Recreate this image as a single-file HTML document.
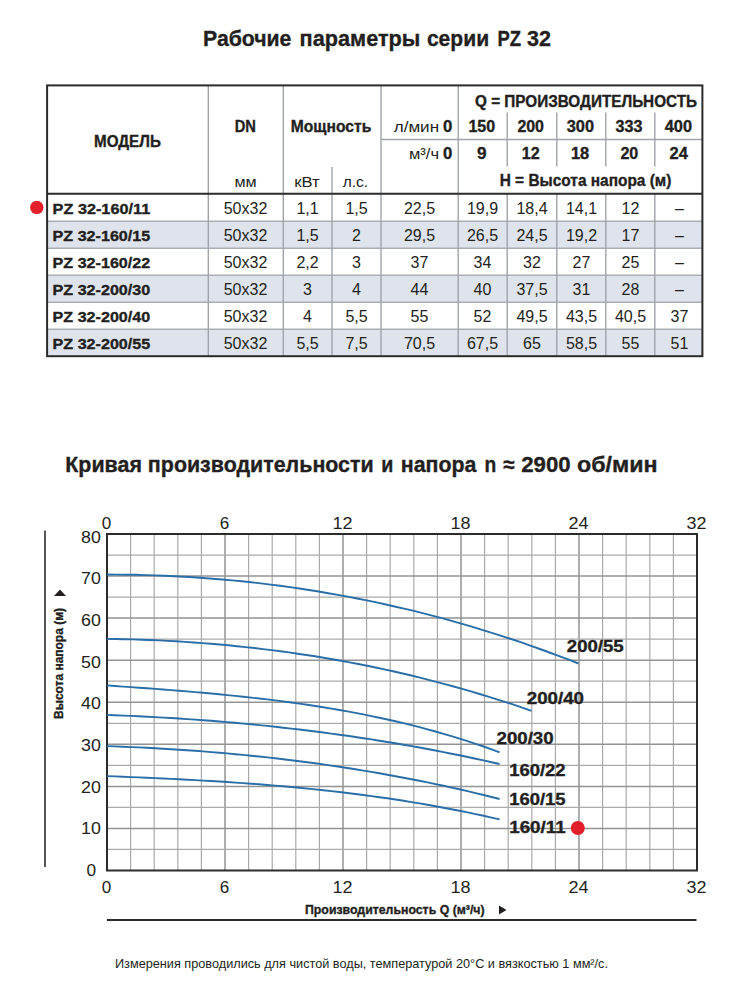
<!DOCTYPE html>
<html><head><meta charset="utf-8"><style>
html,body{margin:0;padding:0;background:#fff;width:735px;height:1000px;overflow:hidden}
svg{position:absolute;left:0;top:0;font-family:"Liberation Sans",sans-serif}
</style></head><body>
<svg width="735" height="1000" viewBox="0 0 735 1000">
<g id="lines">
<rect x="47" y="222" width="655" height="26" fill="#dfe4ec"/>
<rect x="47" y="276" width="655" height="26" fill="#dfe4ec"/>
<rect x="47" y="330" width="655" height="26" fill="#dfe4ec"/>
<line x1="47" y1="221.3" x2="702" y2="221.3" stroke="#a9aeb5" stroke-width="1.6"/>
<line x1="47" y1="248.3" x2="702" y2="248.3" stroke="#a9aeb5" stroke-width="1.6"/>
<line x1="47" y1="275.3" x2="702" y2="275.3" stroke="#a9aeb5" stroke-width="1.6"/>
<line x1="47" y1="302.3" x2="702" y2="302.3" stroke="#a9aeb5" stroke-width="1.6"/>
<line x1="47" y1="329.3" x2="702" y2="329.3" stroke="#a9aeb5" stroke-width="1.6"/>
<line x1="208.3" y1="85" x2="208.3" y2="356" stroke="#a0a4aa" stroke-width="1.4"/>
<line x1="283.3" y1="85" x2="283.3" y2="356" stroke="#a0a4aa" stroke-width="1.4"/>
<line x1="381" y1="85" x2="381" y2="356" stroke="#a0a4aa" stroke-width="1.4"/>
<line x1="458.2" y1="85" x2="458.2" y2="356" stroke="#a0a4aa" stroke-width="1.4"/>
<line x1="332" y1="167" x2="332" y2="356" stroke="#a0a4aa" stroke-width="1.4"/>
<line x1="507.2" y1="112.5" x2="507.2" y2="166.5" stroke="#a0a4aa" stroke-width="1.4"/>
<line x1="507.2" y1="194" x2="507.2" y2="356" stroke="#a0a4aa" stroke-width="1.4"/>
<line x1="556.8" y1="112.5" x2="556.8" y2="166.5" stroke="#a0a4aa" stroke-width="1.4"/>
<line x1="556.8" y1="194" x2="556.8" y2="356" stroke="#a0a4aa" stroke-width="1.4"/>
<line x1="605.8" y1="112.5" x2="605.8" y2="166.5" stroke="#a0a4aa" stroke-width="1.4"/>
<line x1="605.8" y1="194" x2="605.8" y2="356" stroke="#a0a4aa" stroke-width="1.4"/>
<line x1="654.8" y1="112.5" x2="654.8" y2="166.5" stroke="#a0a4aa" stroke-width="1.4"/>
<line x1="654.8" y1="194" x2="654.8" y2="356" stroke="#a0a4aa" stroke-width="1.4"/>
<line x1="381" y1="139.5" x2="702" y2="139.5" stroke="#a0a4aa" stroke-width="1.4"/>
<line x1="47" y1="193.7" x2="702" y2="193.7" stroke="#2b2b2b" stroke-width="2"/>
<rect x="47.1" y="85.4" width="655.3" height="270.8" fill="none" stroke="#2b2b2b" stroke-width="2"/>
<circle cx="36.8" cy="207.4" r="6.7" fill="#e3202a"/>
<line x1="130.60" y1="534.0" x2="130.60" y2="870.5" stroke="#aaaaaa" stroke-width="1.2"/>
<line x1="154.20" y1="534.0" x2="154.20" y2="870.5" stroke="#aaaaaa" stroke-width="1.2"/>
<line x1="177.80" y1="534.0" x2="177.80" y2="870.5" stroke="#aaaaaa" stroke-width="1.2"/>
<line x1="201.40" y1="534.0" x2="201.40" y2="870.5" stroke="#aaaaaa" stroke-width="1.2"/>
<line x1="225.00" y1="534.0" x2="225.00" y2="870.5" stroke="#939393" stroke-width="1.5"/>
<line x1="248.60" y1="534.0" x2="248.60" y2="870.5" stroke="#aaaaaa" stroke-width="1.2"/>
<line x1="272.20" y1="534.0" x2="272.20" y2="870.5" stroke="#aaaaaa" stroke-width="1.2"/>
<line x1="295.80" y1="534.0" x2="295.80" y2="870.5" stroke="#aaaaaa" stroke-width="1.2"/>
<line x1="319.40" y1="534.0" x2="319.40" y2="870.5" stroke="#aaaaaa" stroke-width="1.2"/>
<line x1="343.00" y1="534.0" x2="343.00" y2="870.5" stroke="#939393" stroke-width="1.5"/>
<line x1="366.60" y1="534.0" x2="366.60" y2="870.5" stroke="#aaaaaa" stroke-width="1.2"/>
<line x1="390.20" y1="534.0" x2="390.20" y2="870.5" stroke="#aaaaaa" stroke-width="1.2"/>
<line x1="413.80" y1="534.0" x2="413.80" y2="870.5" stroke="#aaaaaa" stroke-width="1.2"/>
<line x1="437.40" y1="534.0" x2="437.40" y2="870.5" stroke="#aaaaaa" stroke-width="1.2"/>
<line x1="461.00" y1="534.0" x2="461.00" y2="870.5" stroke="#939393" stroke-width="1.5"/>
<line x1="484.60" y1="534.0" x2="484.60" y2="870.5" stroke="#aaaaaa" stroke-width="1.2"/>
<line x1="508.20" y1="534.0" x2="508.20" y2="870.5" stroke="#aaaaaa" stroke-width="1.2"/>
<line x1="531.80" y1="534.0" x2="531.80" y2="870.5" stroke="#aaaaaa" stroke-width="1.2"/>
<line x1="555.40" y1="534.0" x2="555.40" y2="870.5" stroke="#aaaaaa" stroke-width="1.2"/>
<line x1="579.00" y1="534.0" x2="579.00" y2="870.5" stroke="#939393" stroke-width="1.5"/>
<line x1="602.60" y1="534.0" x2="602.60" y2="870.5" stroke="#aaaaaa" stroke-width="1.2"/>
<line x1="626.20" y1="534.0" x2="626.20" y2="870.5" stroke="#aaaaaa" stroke-width="1.2"/>
<line x1="649.80" y1="534.0" x2="649.80" y2="870.5" stroke="#aaaaaa" stroke-width="1.2"/>
<line x1="673.40" y1="534.0" x2="673.40" y2="870.5" stroke="#aaaaaa" stroke-width="1.2"/>
<line x1="107" y1="555.03" x2="697" y2="555.03" stroke="#aaaaaa" stroke-width="1.2"/>
<line x1="107" y1="576.06" x2="697" y2="576.06" stroke="#939393" stroke-width="1.5"/>
<line x1="107" y1="597.09" x2="697" y2="597.09" stroke="#aaaaaa" stroke-width="1.2"/>
<line x1="107" y1="618.12" x2="697" y2="618.12" stroke="#939393" stroke-width="1.5"/>
<line x1="107" y1="639.16" x2="697" y2="639.16" stroke="#aaaaaa" stroke-width="1.2"/>
<line x1="107" y1="660.19" x2="697" y2="660.19" stroke="#939393" stroke-width="1.5"/>
<line x1="107" y1="681.22" x2="697" y2="681.22" stroke="#aaaaaa" stroke-width="1.2"/>
<line x1="107" y1="702.25" x2="697" y2="702.25" stroke="#939393" stroke-width="1.5"/>
<line x1="107" y1="723.28" x2="697" y2="723.28" stroke="#aaaaaa" stroke-width="1.2"/>
<line x1="107" y1="744.31" x2="697" y2="744.31" stroke="#939393" stroke-width="1.5"/>
<line x1="107" y1="765.34" x2="697" y2="765.34" stroke="#aaaaaa" stroke-width="1.2"/>
<line x1="107" y1="786.38" x2="697" y2="786.38" stroke="#939393" stroke-width="1.5"/>
<line x1="107" y1="807.41" x2="697" y2="807.41" stroke="#aaaaaa" stroke-width="1.2"/>
<line x1="107" y1="828.44" x2="697" y2="828.44" stroke="#939393" stroke-width="1.5"/>
<line x1="107" y1="849.47" x2="697" y2="849.47" stroke="#aaaaaa" stroke-width="1.2"/>
<rect x="107" y="534.0" width="590" height="336.5" fill="none" stroke="#2b2b2b" stroke-width="2"/>
<path d="M107.0,574.5 L116.6,574.6 L126.2,574.7 L135.9,574.8 L145.5,575.1 L155.1,575.4 L164.7,575.8 L174.3,576.2 L184.0,576.7 L193.6,577.3 L203.2,578.0 L212.8,578.7 L222.4,579.5 L232.1,580.4 L241.7,581.3 L251.3,582.3 L260.9,583.4 L270.5,584.6 L280.2,585.8 L289.8,587.1 L299.4,588.5 L309.0,590.0 L318.6,591.5 L328.3,593.2 L337.9,594.9 L347.5,596.6 L357.1,598.5 L366.8,600.4 L376.4,602.4 L386.0,604.5 L395.6,606.7 L405.2,608.9 L414.9,611.2 L424.5,613.6 L434.1,616.1 L443.7,618.7 L453.3,621.3 L463.0,624.1 L472.6,626.9 L482.2,629.8 L491.8,632.8 L501.4,635.8 L511.1,639.0 L520.7,642.2 L530.3,645.6 L539.9,649.0 L549.5,652.5 L559.2,656.1 L568.8,659.7 L578.4,663.5" fill="none" stroke="#2a6ea8" stroke-width="1.9" stroke-linejoin="round"/>
<path d="M107.0,638.9 L115.7,639.0 L124.3,639.2 L133.0,639.4 L141.7,639.7 L150.3,640.0 L159.0,640.4 L167.7,640.9 L176.3,641.3 L185.0,641.9 L193.7,642.5 L202.3,643.1 L211.0,643.8 L219.6,644.5 L228.3,645.3 L237.0,646.2 L245.6,647.1 L254.3,648.0 L263.0,649.1 L271.6,650.1 L280.3,651.3 L289.0,652.4 L297.6,653.7 L306.3,655.0 L315.0,656.3 L323.6,657.8 L332.3,659.2 L341.0,660.8 L349.6,662.4 L358.3,664.0 L367.0,665.8 L375.6,667.5 L384.3,669.4 L393.0,671.3 L401.6,673.3 L410.3,675.3 L419.0,677.4 L427.6,679.6 L436.3,681.8 L444.9,684.1 L453.6,686.5 L462.3,688.9 L470.9,691.4 L479.6,694.0 L488.3,696.6 L496.9,699.3 L505.6,702.1 L514.3,704.9 L522.9,707.9 L531.6,710.9" fill="none" stroke="#2a6ea8" stroke-width="1.9" stroke-linejoin="round"/>
<path d="M107.0,685.4 L115.0,686.0 L123.0,686.6 L131.0,687.1 L139.0,687.7 L147.1,688.3 L155.1,688.9 L163.1,689.5 L171.1,690.1 L179.1,690.8 L187.1,691.4 L195.1,692.1 L203.1,692.8 L211.2,693.5 L219.2,694.3 L227.2,695.1 L235.2,695.9 L243.2,696.7 L251.2,697.6 L259.2,698.5 L267.2,699.4 L275.3,700.4 L283.3,701.4 L291.3,702.5 L299.3,703.6 L307.3,704.8 L315.3,706.0 L323.3,707.3 L331.3,708.6 L339.4,710.0 L347.4,711.4 L355.4,712.9 L363.4,714.4 L371.4,716.1 L379.4,717.7 L387.4,719.5 L395.4,721.3 L403.5,723.2 L411.5,725.2 L419.5,727.2 L427.5,729.3 L435.5,731.5 L443.5,733.8 L451.5,736.2 L459.5,738.6 L467.6,741.2 L475.6,743.8 L483.6,746.5 L491.6,749.3 L499.6,752.3" fill="none" stroke="#2a6ea8" stroke-width="1.9" stroke-linejoin="round"/>
<path d="M107.0,714.9 L115.0,715.2 L123.0,715.6 L131.0,715.9 L139.0,716.3 L147.1,716.7 L155.1,717.1 L163.1,717.6 L171.1,718.0 L179.1,718.5 L187.1,719.1 L195.1,719.6 L203.1,720.2 L211.2,720.8 L219.2,721.5 L227.2,722.1 L235.2,722.8 L243.2,723.6 L251.2,724.3 L259.2,725.1 L267.2,725.9 L275.3,726.8 L283.3,727.7 L291.3,728.6 L299.3,729.5 L307.3,730.5 L315.3,731.5 L323.3,732.5 L331.3,733.6 L339.4,734.7 L347.4,735.8 L355.4,737.0 L363.4,738.2 L371.4,739.4 L379.4,740.7 L387.4,742.0 L395.4,743.3 L403.5,744.7 L411.5,746.1 L419.5,747.5 L427.5,749.0 L435.5,750.5 L443.5,752.1 L451.5,753.7 L459.5,755.3 L467.6,757.0 L475.6,758.7 L483.6,760.4 L491.6,762.2 L499.6,764.0" fill="none" stroke="#2a6ea8" stroke-width="1.9" stroke-linejoin="round"/>
<path d="M107.0,746.1 L115.0,746.4 L123.0,746.7 L131.0,747.1 L139.0,747.4 L147.1,747.8 L155.1,748.3 L163.1,748.7 L171.1,749.2 L179.1,749.7 L187.1,750.2 L195.1,750.8 L203.1,751.4 L211.2,752.1 L219.2,752.7 L227.2,753.4 L235.2,754.2 L243.2,754.9 L251.2,755.7 L259.2,756.5 L267.2,757.4 L275.3,758.3 L283.3,759.2 L291.3,760.2 L299.3,761.2 L307.3,762.2 L315.3,763.3 L323.3,764.4 L331.3,765.6 L339.4,766.8 L347.4,768.0 L355.4,769.3 L363.4,770.6 L371.4,771.9 L379.4,773.3 L387.4,774.7 L395.4,776.2 L403.5,777.7 L411.5,779.2 L419.5,780.8 L427.5,782.4 L435.5,784.1 L443.5,785.8 L451.5,787.6 L459.5,789.3 L467.6,791.2 L475.6,793.1 L483.6,795.0 L491.6,797.0 L499.6,799.0" fill="none" stroke="#2a6ea8" stroke-width="1.9" stroke-linejoin="round"/>
<path d="M107.0,776.1 L115.0,776.4 L123.0,776.8 L131.0,777.1 L139.0,777.4 L147.1,777.8 L155.1,778.1 L163.1,778.5 L171.1,778.9 L179.1,779.3 L187.1,779.7 L195.1,780.1 L203.1,780.6 L211.2,781.0 L219.2,781.5 L227.2,782.0 L235.2,782.6 L243.2,783.1 L251.2,783.7 L259.2,784.3 L267.2,785.0 L275.3,785.6 L283.3,786.3 L291.3,787.0 L299.3,787.8 L307.3,788.6 L315.3,789.4 L323.3,790.2 L331.3,791.1 L339.4,792.0 L347.4,793.0 L355.4,794.0 L363.4,795.0 L371.4,796.1 L379.4,797.2 L387.4,798.3 L395.4,799.5 L403.5,800.8 L411.5,802.1 L419.5,803.4 L427.5,804.8 L435.5,806.2 L443.5,807.7 L451.5,809.2 L459.5,810.8 L467.6,812.4 L475.6,814.1 L483.6,815.8 L491.6,817.6 L499.6,819.4" fill="none" stroke="#2a6ea8" stroke-width="1.9" stroke-linejoin="round"/>
<circle cx="577.8" cy="828" r="7" fill="#e3202a"/>
<line x1="45" y1="530.5" x2="45" y2="867" stroke="#2b2b2b" stroke-width="1.6"/>
<line x1="107" y1="920" x2="696.5" y2="920" stroke="#2b2b2b" stroke-width="1.8"/>
<path d="M54,596 L66,596 L60,589.5 Z" fill="#231f20"/>
<path d="M499,905.6 L499,914.4 L506.5,910 Z" fill="#231f20"/>
</g>
<g id="texts">
<text id="t0" x="203.00" y="45.70" font-weight="700" font-size="22" textLength="88.40" lengthAdjust="spacingAndGlyphs" fill="#231f20" stroke="#231f20" stroke-width="0.35">Рабочие</text>
<text id="t1" x="299.60" y="45.70" font-weight="700" font-size="22" textLength="120.80" lengthAdjust="spacingAndGlyphs" fill="#231f20" stroke="#231f20" stroke-width="0.35">параметры</text>
<text id="t2" x="426.90" y="45.70" font-weight="700" font-size="22" textLength="62.20" lengthAdjust="spacingAndGlyphs" fill="#231f20" stroke="#231f20" stroke-width="0.35">серии</text>
<text id="t3" x="497.40" y="45.70" font-weight="700" font-size="22" textLength="23.60" lengthAdjust="spacingAndGlyphs" fill="#231f20" stroke="#231f20" stroke-width="0.35">PZ</text>
<text id="t4" x="527.10" y="45.70" font-weight="700" font-size="22" textLength="23.90" lengthAdjust="spacingAndGlyphs" fill="#231f20" stroke="#231f20" stroke-width="0.35">32</text>
<text id="t5" x="65.30" y="472.00" font-weight="700" font-size="22" textLength="308.40" lengthAdjust="spacingAndGlyphs" fill="#231f20" stroke="#231f20" stroke-width="0.35">Кривая производительности</text>
<text id="t6" x="381.20" y="472.00" font-weight="700" font-size="22" textLength="12.10" lengthAdjust="spacingAndGlyphs" fill="#231f20" stroke="#231f20" stroke-width="0.35">и</text>
<text id="t7" x="400.80" y="472.00" font-weight="700" font-size="22" textLength="75.70" lengthAdjust="spacingAndGlyphs" fill="#231f20" stroke="#231f20" stroke-width="0.35">напора</text>
<text id="t8" x="484.50" y="472.00" font-weight="700" font-size="22" textLength="11.80" lengthAdjust="spacingAndGlyphs" fill="#231f20" stroke="#231f20" stroke-width="0.35">n</text>
<text id="t9" x="503.10" y="472.00" font-weight="700" font-size="22" textLength="11.40" lengthAdjust="spacingAndGlyphs" fill="#231f20" stroke="#231f20" stroke-width="0.35">≈</text>
<text id="t10" x="521.20" y="472.00" font-weight="700" font-size="22" textLength="49.40" lengthAdjust="spacingAndGlyphs" fill="#231f20" stroke="#231f20" stroke-width="0.35">2900</text>
<text id="t11" x="577.00" y="472.00" font-weight="700" font-size="22" textLength="80.60" lengthAdjust="spacingAndGlyphs" fill="#231f20" stroke="#231f20" stroke-width="0.35">об/мин</text>
<text id="t12" x="94.00" y="147.20" font-weight="700" font-size="16" textLength="66.80" lengthAdjust="spacingAndGlyphs" fill="#231f20" stroke="#231f20" stroke-width="0.35">МОДЕЛЬ</text>
<text id="t13" x="234.70" y="132.40" font-weight="700" font-size="16" textLength="21.20" lengthAdjust="spacingAndGlyphs" fill="#231f20" stroke="#231f20" stroke-width="0.35">DN</text>
<text id="t14" x="290.80" y="132.40" font-weight="700" font-size="16" textLength="80.50" lengthAdjust="spacingAndGlyphs" fill="#231f20" stroke="#231f20" stroke-width="0.35">Мощность</text>
<text id="t15" x="234.40" y="187.20" font-weight="400" font-size="15.5" textLength="22.20" lengthAdjust="spacingAndGlyphs" fill="#231f20">мм</text>
<text id="t16" x="294.20" y="187.20" font-weight="400" font-size="15.5" textLength="25.50" lengthAdjust="spacingAndGlyphs" fill="#231f20">кВт</text>
<text id="t17" x="342.70" y="187.20" font-weight="400" font-size="15.5" textLength="25.50" lengthAdjust="spacingAndGlyphs" fill="#231f20">л.с.</text>
<text id="t18" x="475.00" y="106.50" font-weight="700" font-size="16" textLength="222.00" lengthAdjust="spacingAndGlyphs" fill="#231f20" stroke="#231f20" stroke-width="0.35">Q = ПРОИЗВОДИТЕЛЬНОСТЬ</text>
<text id="t19" x="393.70" y="132.30" font-weight="400" font-size="15.5" textLength="45.40" lengthAdjust="spacingAndGlyphs" fill="#231f20">л/мин</text>
<text id="t20" x="443.00" y="132.30" font-weight="700" font-size="16" textLength="9.30" lengthAdjust="spacingAndGlyphs" fill="#231f20" stroke="#231f20" stroke-width="0.35">0</text>
<text id="t21" x="409.00" y="159.20" font-weight="400" font-size="15.5" textLength="30.00" lengthAdjust="spacingAndGlyphs" fill="#231f20">м³/ч</text>
<text id="t22" x="443.00" y="159.20" font-weight="700" font-size="16" textLength="9.30" lengthAdjust="spacingAndGlyphs" fill="#231f20" stroke="#231f20" stroke-width="0.35">0</text>
<text id="t23" x="499.70" y="186.10" font-weight="700" font-size="16" textLength="171.70" lengthAdjust="spacingAndGlyphs" fill="#231f20" stroke="#231f20" stroke-width="0.35">H = Высота напора (м)</text>
<text id="t24" x="468.40" y="132.00" font-weight="700" font-size="16" textLength="26.70" lengthAdjust="spacingAndGlyphs" fill="#231f20" stroke="#231f20" stroke-width="0.35">150</text>
<text id="t25" x="517.40" y="132.00" font-weight="700" font-size="16" textLength="26.60" lengthAdjust="spacingAndGlyphs" fill="#231f20" stroke="#231f20" stroke-width="0.35">200</text>
<text id="t26" x="566.70" y="132.00" font-weight="700" font-size="16" textLength="27.30" lengthAdjust="spacingAndGlyphs" fill="#231f20" stroke="#231f20" stroke-width="0.35">300</text>
<text id="t27" x="615.60" y="132.00" font-weight="700" font-size="16" textLength="26.90" lengthAdjust="spacingAndGlyphs" fill="#231f20" stroke="#231f20" stroke-width="0.35">333</text>
<text id="t28" x="664.70" y="132.00" font-weight="700" font-size="16" textLength="27.30" lengthAdjust="spacingAndGlyphs" fill="#231f20" stroke="#231f20" stroke-width="0.35">400</text>
<text id="t29" x="477.00" y="159.30" font-weight="700" font-size="16" textLength="9.50" lengthAdjust="spacingAndGlyphs" fill="#231f20" stroke="#231f20" stroke-width="0.35">9</text>
<text id="t30" x="521.80" y="159.30" font-weight="700" font-size="16" textLength="17.90" lengthAdjust="spacingAndGlyphs" fill="#231f20" stroke="#231f20" stroke-width="0.35">12</text>
<text id="t31" x="570.90" y="159.30" font-weight="700" font-size="16" textLength="18.30" lengthAdjust="spacingAndGlyphs" fill="#231f20" stroke="#231f20" stroke-width="0.35">18</text>
<text id="t32" x="620.40" y="159.30" font-weight="700" font-size="16" textLength="17.90" lengthAdjust="spacingAndGlyphs" fill="#231f20" stroke="#231f20" stroke-width="0.35">20</text>
<text id="t33" x="669.60" y="159.30" font-weight="700" font-size="16" textLength="18.30" lengthAdjust="spacingAndGlyphs" fill="#231f20" stroke="#231f20" stroke-width="0.35">24</text>
<text id="t34" x="52.60" y="213.90" font-weight="700" font-size="15.3" textLength="97.60" lengthAdjust="spacingAndGlyphs" fill="#231f20" stroke="#231f20" stroke-width="0.35">PZ 32-160/11</text>
<text id="t35" x="52.60" y="240.90" font-weight="700" font-size="15.3" textLength="97.60" lengthAdjust="spacingAndGlyphs" fill="#231f20" stroke="#231f20" stroke-width="0.35">PZ 32-160/15</text>
<text id="t36" x="52.60" y="267.90" font-weight="700" font-size="15.3" textLength="97.60" lengthAdjust="spacingAndGlyphs" fill="#231f20" stroke="#231f20" stroke-width="0.35">PZ 32-160/22</text>
<text id="t37" x="52.60" y="294.90" font-weight="700" font-size="15.3" textLength="97.60" lengthAdjust="spacingAndGlyphs" fill="#231f20" stroke="#231f20" stroke-width="0.35">PZ 32-200/30</text>
<text id="t38" x="52.60" y="321.90" font-weight="700" font-size="15.3" textLength="97.60" lengthAdjust="spacingAndGlyphs" fill="#231f20" stroke="#231f20" stroke-width="0.35">PZ 32-200/40</text>
<text id="t39" x="52.60" y="348.90" font-weight="700" font-size="15.3" textLength="97.60" lengthAdjust="spacingAndGlyphs" fill="#231f20" stroke="#231f20" stroke-width="0.35">PZ 32-200/55</text>
<text id="t40" x="81.10" y="542.60" font-weight="400" font-size="16" textLength="19.80" lengthAdjust="spacingAndGlyphs" fill="#231f20">80</text>
<text id="t41" x="81.10" y="584.28" font-weight="400" font-size="16" textLength="19.80" lengthAdjust="spacingAndGlyphs" fill="#231f20">70</text>
<text id="t42" x="81.10" y="625.96" font-weight="400" font-size="16" textLength="19.80" lengthAdjust="spacingAndGlyphs" fill="#231f20">60</text>
<text id="t43" x="81.10" y="667.64" font-weight="400" font-size="16" textLength="19.80" lengthAdjust="spacingAndGlyphs" fill="#231f20">50</text>
<text id="t44" x="81.10" y="709.32" font-weight="400" font-size="16" textLength="19.80" lengthAdjust="spacingAndGlyphs" fill="#231f20">40</text>
<text id="t45" x="81.10" y="751.00" font-weight="400" font-size="16" textLength="19.80" lengthAdjust="spacingAndGlyphs" fill="#231f20">30</text>
<text id="t46" x="81.10" y="792.68" font-weight="400" font-size="16" textLength="19.80" lengthAdjust="spacingAndGlyphs" fill="#231f20">20</text>
<text id="t47" x="81.10" y="834.36" font-weight="400" font-size="16" textLength="19.80" lengthAdjust="spacingAndGlyphs" fill="#231f20">10</text>
<text id="t48" x="86.40" y="876.04" font-weight="400" font-size="16" textLength="9.60" lengthAdjust="spacingAndGlyphs" fill="#231f20">0</text>
<text id="t49" x="101.75" y="528.60" font-weight="400" font-size="16" textLength="9.50" lengthAdjust="spacingAndGlyphs" fill="#231f20">0</text>
<text id="t50" x="101.75" y="893.00" font-weight="400" font-size="16" textLength="9.50" lengthAdjust="spacingAndGlyphs" fill="#231f20">0</text>
<text id="t51" x="219.75" y="528.60" font-weight="400" font-size="16" textLength="9.50" lengthAdjust="spacingAndGlyphs" fill="#231f20">6</text>
<text id="t52" x="219.75" y="893.00" font-weight="400" font-size="16" textLength="9.50" lengthAdjust="spacingAndGlyphs" fill="#231f20">6</text>
<text id="t53" x="332.50" y="528.60" font-weight="400" font-size="16" textLength="20.00" lengthAdjust="spacingAndGlyphs" fill="#231f20">12</text>
<text id="t54" x="332.50" y="893.00" font-weight="400" font-size="16" textLength="20.00" lengthAdjust="spacingAndGlyphs" fill="#231f20">12</text>
<text id="t55" x="450.50" y="528.60" font-weight="400" font-size="16" textLength="20.00" lengthAdjust="spacingAndGlyphs" fill="#231f20">18</text>
<text id="t56" x="450.50" y="893.00" font-weight="400" font-size="16" textLength="20.00" lengthAdjust="spacingAndGlyphs" fill="#231f20">18</text>
<text id="t57" x="568.50" y="528.60" font-weight="400" font-size="16" textLength="20.00" lengthAdjust="spacingAndGlyphs" fill="#231f20">24</text>
<text id="t58" x="568.50" y="893.00" font-weight="400" font-size="16" textLength="20.00" lengthAdjust="spacingAndGlyphs" fill="#231f20">24</text>
<text id="t59" x="686.50" y="528.60" font-weight="400" font-size="16" textLength="20.00" lengthAdjust="spacingAndGlyphs" fill="#231f20">32</text>
<text id="t60" x="686.50" y="893.00" font-weight="400" font-size="16" textLength="20.00" lengthAdjust="spacingAndGlyphs" fill="#231f20">32</text>
<text id="t61" x="566.80" y="651.80" font-weight="700" font-size="16" textLength="56.90" lengthAdjust="spacingAndGlyphs" fill="#231f20" stroke="#231f20" stroke-width="0.35">200/55</text>
<text id="t62" x="526.80" y="704.00" font-weight="700" font-size="16" textLength="57.20" lengthAdjust="spacingAndGlyphs" fill="#231f20" stroke="#231f20" stroke-width="0.35">200/40</text>
<text id="t63" x="496.50" y="743.90" font-weight="700" font-size="16" textLength="57.10" lengthAdjust="spacingAndGlyphs" fill="#231f20" stroke="#231f20" stroke-width="0.35">200/30</text>
<text id="t64" x="509.20" y="775.70" font-weight="700" font-size="16" textLength="56.40" lengthAdjust="spacingAndGlyphs" fill="#231f20" stroke="#231f20" stroke-width="0.35">160/22</text>
<text id="t65" x="509.20" y="804.60" font-weight="700" font-size="16" textLength="56.40" lengthAdjust="spacingAndGlyphs" fill="#231f20" stroke="#231f20" stroke-width="0.35">160/15</text>
<text id="t66" x="509.20" y="833.00" font-weight="700" font-size="16" textLength="56.40" lengthAdjust="spacingAndGlyphs" fill="#231f20" stroke="#231f20" stroke-width="0.35">160/11</text>
<text id="t67" x="305.00" y="913.60" font-weight="700" font-size="13" textLength="179.60" lengthAdjust="spacingAndGlyphs" fill="#231f20" stroke="#231f20" stroke-width="0.35">Производительность Q (м³/ч)</text>
<text id="t68" x="115.00" y="968.00" font-weight="400" font-size="13" textLength="493.00" lengthAdjust="spacingAndGlyphs" fill="#231f20">Измерения проводились для чистой воды, температурой 20°C и вязкостью 1 мм²/с.</text>
<text id="d0_1" x="245.50" y="213.90" text-anchor="middle" font-weight="400" font-size="16" fill="#231f20">50x32</text>
<text id="d0_2" x="307.50" y="213.90" text-anchor="middle" font-weight="400" font-size="16" fill="#231f20">1,1</text>
<text id="d0_3" x="356.50" y="213.90" text-anchor="middle" font-weight="400" font-size="16" fill="#231f20">1,5</text>
<text id="d0_4" x="419.50" y="213.90" text-anchor="middle" font-weight="400" font-size="16" fill="#231f20">22,5</text>
<text id="d0_5" x="482.50" y="213.90" text-anchor="middle" font-weight="400" font-size="16" fill="#231f20">19,9</text>
<text id="d0_6" x="532.00" y="213.90" text-anchor="middle" font-weight="400" font-size="16" fill="#231f20">18,4</text>
<text id="d0_7" x="581.50" y="213.90" text-anchor="middle" font-weight="400" font-size="16" fill="#231f20">14,1</text>
<text id="d0_8" x="630.50" y="213.90" text-anchor="middle" font-weight="400" font-size="16" fill="#231f20">12</text>
<text id="d0_9" x="679.50" y="213.90" text-anchor="middle" font-weight="400" font-size="16" fill="#231f20">–</text>
<text id="d1_1" x="245.50" y="240.90" text-anchor="middle" font-weight="400" font-size="16" fill="#231f20">50x32</text>
<text id="d1_2" x="307.50" y="240.90" text-anchor="middle" font-weight="400" font-size="16" fill="#231f20">1,5</text>
<text id="d1_3" x="356.50" y="240.90" text-anchor="middle" font-weight="400" font-size="16" fill="#231f20">2</text>
<text id="d1_4" x="419.50" y="240.90" text-anchor="middle" font-weight="400" font-size="16" fill="#231f20">29,5</text>
<text id="d1_5" x="482.50" y="240.90" text-anchor="middle" font-weight="400" font-size="16" fill="#231f20">26,5</text>
<text id="d1_6" x="532.00" y="240.90" text-anchor="middle" font-weight="400" font-size="16" fill="#231f20">24,5</text>
<text id="d1_7" x="581.50" y="240.90" text-anchor="middle" font-weight="400" font-size="16" fill="#231f20">19,2</text>
<text id="d1_8" x="630.50" y="240.90" text-anchor="middle" font-weight="400" font-size="16" fill="#231f20">17</text>
<text id="d1_9" x="679.50" y="240.90" text-anchor="middle" font-weight="400" font-size="16" fill="#231f20">–</text>
<text id="d2_1" x="245.50" y="267.90" text-anchor="middle" font-weight="400" font-size="16" fill="#231f20">50x32</text>
<text id="d2_2" x="307.50" y="267.90" text-anchor="middle" font-weight="400" font-size="16" fill="#231f20">2,2</text>
<text id="d2_3" x="356.50" y="267.90" text-anchor="middle" font-weight="400" font-size="16" fill="#231f20">3</text>
<text id="d2_4" x="419.50" y="267.90" text-anchor="middle" font-weight="400" font-size="16" fill="#231f20">37</text>
<text id="d2_5" x="482.50" y="267.90" text-anchor="middle" font-weight="400" font-size="16" fill="#231f20">34</text>
<text id="d2_6" x="532.00" y="267.90" text-anchor="middle" font-weight="400" font-size="16" fill="#231f20">32</text>
<text id="d2_7" x="581.50" y="267.90" text-anchor="middle" font-weight="400" font-size="16" fill="#231f20">27</text>
<text id="d2_8" x="630.50" y="267.90" text-anchor="middle" font-weight="400" font-size="16" fill="#231f20">25</text>
<text id="d2_9" x="679.50" y="267.90" text-anchor="middle" font-weight="400" font-size="16" fill="#231f20">–</text>
<text id="d3_1" x="245.50" y="294.90" text-anchor="middle" font-weight="400" font-size="16" fill="#231f20">50x32</text>
<text id="d3_2" x="307.50" y="294.90" text-anchor="middle" font-weight="400" font-size="16" fill="#231f20">3</text>
<text id="d3_3" x="356.50" y="294.90" text-anchor="middle" font-weight="400" font-size="16" fill="#231f20">4</text>
<text id="d3_4" x="419.50" y="294.90" text-anchor="middle" font-weight="400" font-size="16" fill="#231f20">44</text>
<text id="d3_5" x="482.50" y="294.90" text-anchor="middle" font-weight="400" font-size="16" fill="#231f20">40</text>
<text id="d3_6" x="532.00" y="294.90" text-anchor="middle" font-weight="400" font-size="16" fill="#231f20">37,5</text>
<text id="d3_7" x="581.50" y="294.90" text-anchor="middle" font-weight="400" font-size="16" fill="#231f20">31</text>
<text id="d3_8" x="630.50" y="294.90" text-anchor="middle" font-weight="400" font-size="16" fill="#231f20">28</text>
<text id="d3_9" x="679.50" y="294.90" text-anchor="middle" font-weight="400" font-size="16" fill="#231f20">–</text>
<text id="d4_1" x="245.50" y="321.90" text-anchor="middle" font-weight="400" font-size="16" fill="#231f20">50x32</text>
<text id="d4_2" x="307.50" y="321.90" text-anchor="middle" font-weight="400" font-size="16" fill="#231f20">4</text>
<text id="d4_3" x="356.50" y="321.90" text-anchor="middle" font-weight="400" font-size="16" fill="#231f20">5,5</text>
<text id="d4_4" x="419.50" y="321.90" text-anchor="middle" font-weight="400" font-size="16" fill="#231f20">55</text>
<text id="d4_5" x="482.50" y="321.90" text-anchor="middle" font-weight="400" font-size="16" fill="#231f20">52</text>
<text id="d4_6" x="532.00" y="321.90" text-anchor="middle" font-weight="400" font-size="16" fill="#231f20">49,5</text>
<text id="d4_7" x="581.50" y="321.90" text-anchor="middle" font-weight="400" font-size="16" fill="#231f20">43,5</text>
<text id="d4_8" x="630.50" y="321.90" text-anchor="middle" font-weight="400" font-size="16" fill="#231f20">40,5</text>
<text id="d4_9" x="679.50" y="321.90" text-anchor="middle" font-weight="400" font-size="16" fill="#231f20">37</text>
<text id="d5_1" x="245.50" y="348.90" text-anchor="middle" font-weight="400" font-size="16" fill="#231f20">50x32</text>
<text id="d5_2" x="307.50" y="348.90" text-anchor="middle" font-weight="400" font-size="16" fill="#231f20">5,5</text>
<text id="d5_3" x="356.50" y="348.90" text-anchor="middle" font-weight="400" font-size="16" fill="#231f20">7,5</text>
<text id="d5_4" x="419.50" y="348.90" text-anchor="middle" font-weight="400" font-size="16" fill="#231f20">70,5</text>
<text id="d5_5" x="482.50" y="348.90" text-anchor="middle" font-weight="400" font-size="16" fill="#231f20">67,5</text>
<text id="d5_6" x="532.00" y="348.90" text-anchor="middle" font-weight="400" font-size="16" fill="#231f20">65</text>
<text id="d5_7" x="581.50" y="348.90" text-anchor="middle" font-weight="400" font-size="16" fill="#231f20">58,5</text>
<text id="d5_8" x="630.50" y="348.90" text-anchor="middle" font-weight="400" font-size="16" fill="#231f20">55</text>
<text id="d5_9" x="679.50" y="348.90" text-anchor="middle" font-weight="400" font-size="16" fill="#231f20">51</text>
<text id="ylab" transform="translate(63.00,719.00) rotate(-90)" x="0" y="0" font-weight="700" font-size="12.5" textLength="111.00" lengthAdjust="spacingAndGlyphs" fill="#231f20" stroke="#231f20" stroke-width="0.35">Высота напора (м)</text>
</g>
</svg>
</body></html>
